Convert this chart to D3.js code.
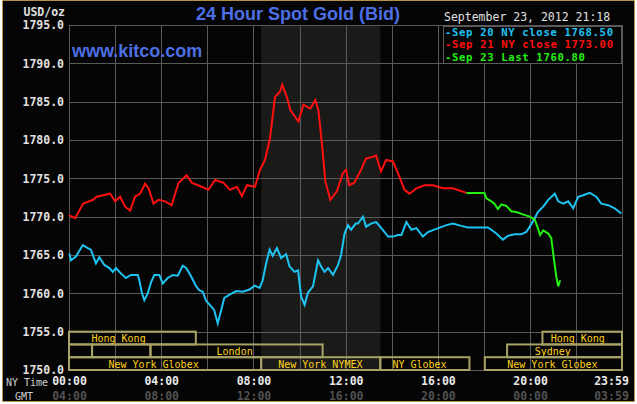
<!DOCTYPE html>
<html><head><meta charset="utf-8">
<script src="https://cdn.jsdelivr.net/npm/d3@7/dist/d3.min.js"></script>
<style>
html,body{margin:0;padding:0;background:#fff;}
svg{display:block;}
</style></head><body>
<svg id="c" width="637" height="404"></svg>
<script>
// ---- data ----
const yTicks = [1750, 1755, 1760, 1765, 1770, 1775, 1780, 1785, 1790, 1795];
const xTickMinutes = [0, 240, 480, 720, 960, 1200, 1439];
const nyLabels = ["00:00", "04:00", "08:00", "12:00", "16:00", "20:00", "23:59"];
const gmtLabels = ["04:00", "08:00", "12:00", "16:00", "20:00", "00:00", "03:59"];
const gridMinutes = [0, 120, 240, 360, 480, 600, 720, 840, 960, 1080, 1200, 1320, 1440];

// [minutes since NY midnight, price]
const sep21 = [[0,1770.2],[16,1769.8],[37,1771.7],[63,1772.2],[72,1772.6],[89,1772.8],[107,1773.0],[120,1772.0],[133,1772.6],[146,1771.3],[159,1770.8],[172,1772.6],[185,1773.0],[198,1774.3],[207,1773.7],[220,1771.7],[233,1772.2],[250,1772.0],[267,1771.5],[285,1774.4],[306,1775.4],[320,1774.4],[341,1774.0],[363,1773.5],[380,1774.8],[402,1774.4],[419,1773.5],[437,1773.9],[450,1772.7],[463,1774.1],[484,1773.9],[497,1776.1],[510,1777.4],[523,1780.2],[536,1785.6],[549,1786.3],[555,1787.2],[567,1785.6],[576,1783.9],[597,1782.4],[610,1784.6],[628,1784.1],[641,1785.2],[649,1783.9],[658,1779.6],[667,1774.6],[680,1772.2],[697,1773.3],[713,1775.7],[721,1776.1],[729,1774.1],[742,1774.4],[760,1776.1],[773,1777.6],[791,1777.8],[799,1778.0],[812,1775.9],[825,1777.4],[843,1777.2],[860,1775.2],[873,1773.5],[886,1773.0],[904,1773.7],[925,1774.1],[947,1774.1],[973,1773.7],[999,1773.7],[1034,1773.1]];

const sep20 = [[1,1765.2],[5,1764.3],[18,1764.8],[36,1766.3],[49,1765.9],[57,1765.7],[70,1763.9],[79,1764.7],[92,1763.7],[105,1763.3],[114,1762.8],[122,1763.3],[135,1762.6],[148,1762.0],[161,1762.4],[179,1762.4],[183,1761.7],[190,1760.0],[196,1759.1],[205,1760.0],[214,1761.5],[222,1762.4],[235,1762.4],[244,1761.3],[257,1762.0],[270,1762.4],[283,1762.3],[296,1763.6],[305,1763.3],[318,1762.2],[331,1760.9],[339,1760.4],[348,1760.2],[357,1759.0],[370,1758.3],[378,1757.8],[387,1756.1],[396,1757.8],[404,1759.4],[417,1759.8],[435,1760.3],[452,1760.2],[470,1760.5],[483,1761.0],[496,1760.7],[504,1761.7],[513,1763.9],[522,1765.7],[530,1764.9],[541,1765.9],[552,1764.6],[565,1765.1],[574,1763.5],[587,1762.8],[596,1763.0],[604,1759.6],[613,1758.5],[622,1760.1],[635,1760.9],[648,1764.3],[656,1763.5],[665,1762.8],[674,1763.3],[687,1762.4],[700,1763.7],[708,1765.0],[717,1767.8],[726,1768.9],[734,1768.3],[746,1769.1],[752,1769.1],[765,1770.0],[773,1768.7],[786,1769.1],[799,1769.3],[808,1768.8],[821,1768.0],[830,1767.4],[843,1767.4],[856,1767.6],[865,1767.6],[878,1769.3],[891,1768.3],[904,1768.5],[921,1767.4],[934,1768.0],[956,1768.4],[982,1768.9],[999,1769.1],[1021,1768.8],[1038,1768.6],[1090,1768.6],[1099,1768.3],[1112,1767.8],[1129,1767.0],[1142,1767.5],[1160,1767.7],[1177,1767.7],[1190,1768.0],[1199,1768.7],[1212,1769.8],[1220,1770.6],[1234,1771.3],[1247,1772.2],[1264,1773.0],[1273,1772.0],[1286,1771.7],[1299,1772.0],[1312,1771.1],[1325,1772.6],[1338,1772.8],[1355,1773.1],[1372,1772.6],[1385,1771.7],[1403,1771.5],[1420,1771.1],[1437,1770.4]];

const sep23 = [[1034,1773.1],[1081,1773.1],[1086,1772.4],[1099,1772.0],[1107,1771.7],[1116,1771.0],[1125,1771.6],[1138,1771.4],[1151,1770.7],[1164,1770.6],[1181,1770.3],[1199,1770.0],[1212,1769.6],[1220,1768.5],[1226,1767.6],[1234,1768.2],[1247,1767.8],[1255,1767.2],[1261,1764.8],[1268,1762.2],[1273,1760.9],[1278,1761.7]];

const legendLabels = ["-Sep 20 NY close 1768.50", "-Sep 21 NY close 1773.00", "-Sep 23 Last 1760.80"];
const legendColors = ["#1ec3f2", "#ff1010", "#22f010"];
const nymexShade = [500, 810];

const marketNames = ["Hong Kong", "Hong Kong", "", "", "London", "Sydney", "New York Globex", "New York NYMEX", "NY Globex", "New York Globex"];
const marketRows  = [0, 0, 1, 1, 1, 1, 2, 2, 2, 2];
const marketStart = [0, 1232, 0, 60, 212, 1140, 0, 500, 810, 1082];
const marketEnd   = [330, 1439, 60, 212, 660, 1439, 500, 810, 1042, 1439];
const marketLabelAt = [129, 1324, 0, 0, 431, 1259, 220, 654, 912, 1258];

// ---- drawing ----
const svg = d3.select("#c");
const x = d3.scaleLinear().domain([0, 1439]).range([69, 622]);
const y = d3.scaleLinear().domain([1750, 1795]).range([370, 25]);
const mono = "'DejaVu Sans Mono', monospace";

svg.append("rect").attr("x", 2.5).attr("y", 0.5).attr("width", 632).attr("height", 401)
  .attr("fill", "#050505").attr("stroke", "#e8a010").attr("stroke-width", 1).attr("stroke-dasharray", "1,1");

// shading
svg.append("rect").attr("x", x(nymexShade[0])).attr("y", y(1795))
  .attr("width", x(nymexShade[1]) - x(nymexShade[0])).attr("height", y(1750) - y(1795))
  .attr("fill", "#1a1b19");

// grid
const grid = svg.append("g").attr("stroke", "#5a5a5a").attr("stroke-width", 1);
grid.selectAll("line.h").data(yTicks).join("line")
  .attr("x1", 69).attr("x2", x(1440)).attr("y1", d => Math.round(y(d)) + 0.5).attr("y2", d => Math.round(y(d)) + 0.5);
grid.selectAll("line.v").data(gridMinutes).join("line")
  .attr("x1", d => Math.round(x(d)) + 0.5).attr("x2", d => Math.round(x(d)) + 0.5)
  .attr("y1", y(1795)).attr("y2", y(1750));

// y axis
const yAxis = svg.append("g").attr("transform", "translate(66,0)")
  .call(d3.axisLeft(y).tickValues(yTicks).tickSize(0).tickPadding(2).tickFormat(d3.format(".1f")));
yAxis.select(".domain").remove();
yAxis.selectAll("text").attr("fill", "#e0e0e0").attr("font-family", mono)
  .attr("font-weight", "bold").attr("font-size", "11.5px");

svg.append("text").attr("x", 65).attr("y", 16).attr("text-anchor", "end")
  .attr("fill", "#e0e0e0").attr("font-family", mono).attr("font-weight", "bold").attr("font-size", "11.5px")
  .text("USD/oz");

// market session boxes
const rowH = (y(1750) - y(1755)) / 3;
const mk = svg.append("g");
marketNames.forEach((name, i) => {
  const top = y(1755) + marketRows[i] * rowH;
  mk.append("rect").attr("x", x(marketStart[i])).attr("y", top)
    .attr("width", x(marketEnd[i]) - x(marketStart[i])).attr("height", rowH)
    .attr("fill", "none").attr("stroke", "#a8a264").attr("stroke-width", 2);
  if (name) {
    mk.append("text").attr("x", x(marketLabelAt[i])).attr("y", top + rowH / 2 + 4)
      .attr("text-anchor", "middle").attr("fill", "#ffd21e").attr("font-family", mono)
      .attr("font-size", "10px").text(name);
  }
});

// lines
const line = d3.line().x(d => x(d[0])).y(d => y(d[1]));
[[sep20, legendColors[0]], [sep21, legendColors[1]], [sep23, legendColors[2]]].forEach(([data, c]) => {
  svg.append("path").datum(data).attr("d", line).attr("fill", "none")
    .attr("stroke", c).attr("stroke-width", 2).attr("stroke-linejoin", "miter");
});

// x axis labels
const xa = svg.append("g").attr("transform", "translate(0,379)")
  .call(d3.axisBottom(x).tickValues(xTickMinutes).tickSize(0).tickPadding(0).tickFormat((d, i) => nyLabels[i]));
xa.select(".domain").remove();
xa.selectAll("text").attr("fill", "#e8e8e8").attr("font-family", mono).attr("font-weight", "bold")
  .attr("font-size", "11.5px").attr("dx", (d, i) => i === xTickMinutes.length - 1 ? -11 : 0).attr("dy", "0.55em");
const xg = svg.append("g").attr("transform", "translate(0,394)")
  .call(d3.axisBottom(x).tickValues(xTickMinutes).tickSize(0).tickPadding(0).tickFormat((d, i) => gmtLabels[i]));
xg.select(".domain").remove();
xg.selectAll("text").attr("fill", "#505050").attr("font-family", mono).attr("font-weight", "bold")
  .attr("font-size", "11.5px").attr("dx", (d, i) => i === xTickMinutes.length - 1 ? -11 : 0).attr("dy", "0.55em");

svg.append("text").attr("x", 6).attr("y", 386).attr("fill", "#d0d0d0").attr("font-family", mono)
  .attr("font-size", "10px").text("NY Time");
svg.append("text").attr("x", 15).attr("y", 400).attr("fill", "#d0d0d0").attr("font-family", mono)
  .attr("font-size", "10px").text("GMT");

// titles
svg.append("text").attr("x", 298).attr("y", 20).attr("text-anchor", "middle")
  .attr("fill", "#4d6fe6").attr("font-family", "'Liberation Sans', Arial, sans-serif")
  .attr("font-weight", "bold").attr("font-size", "18px").text("24 Hour Spot Gold (Bid)");
svg.append("text").attr("x", 72).attr("y", 57)
  .attr("fill", "#4d6fe6").attr("font-family", "'Liberation Sans', Arial, sans-serif")
  .attr("font-weight", "bold").attr("font-size", "18px").text("www.kitco.com");

// legend
svg.append("text").attr("x", 444).attr("y", 21).attr("fill", "#e0e0e0").attr("font-family", mono)
  .attr("font-size", "11.5px").text("September 23, 2012 21:18");
svg.append("rect").attr("x", 443.5).attr("y", 26.5).attr("width", 178).attr("height", 37)
  .attr("fill", "#050505").attr("stroke", "#5a5a5a");
const lgY = [36, 48.3, 60.6];
legendLabels.forEach((t, i) => {
  svg.append("text").attr("x", 445).attr("y", lgY[i]).attr("fill", legendColors[i])
    .attr("font-family", mono).attr("font-weight", "bold").attr("font-size", "10.6px")
    .attr("letter-spacing", "0.65px").text(t);
});
</script>
</body></html>
